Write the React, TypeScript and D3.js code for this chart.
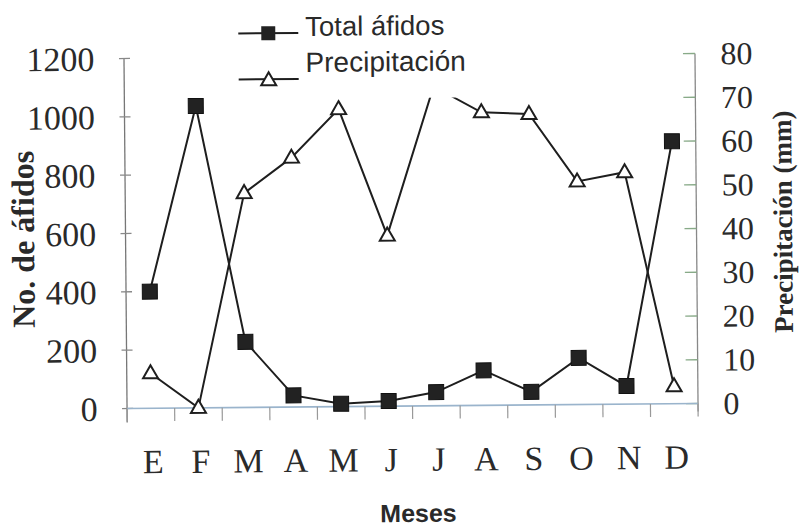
import React from "react";
import * as d3 from "d3";

const months = ["E", "F", "M", "A", "M", "J", "J", "A", "S", "O", "N", "D"];
const afidos = [400, 1035, 225, 40, 10, 18, 47, 120, 45, 160, 62, 900];
const precip = [8, 0, 49, 57, 68, 39, 73, 67, 66.5, 51, 53, 4];
const leftTicks = [0, 200, 400, 600, 800, 1000, 1200];
const rightTicks = [0, 10, 20, 30, 40, 50, 60, 70, 80];

const W = 801;
const H = 526;
const L = 125.5;
const R = 696.5;
const B = 406;
const T = 56;

export default function App() {
  const idx = d3.range(months.length);
  const x = d3.scaleBand<number>().domain(idx).range([L, R]);
  const bw = x.bandwidth();
  const cx = (i: number) => (x(i) as number) + bw / 2;
  const yL = d3.scaleLinear().domain([0, 1200]).range([B, T]);
  const yR = d3.scaleLinear().domain([0, 80]).range([B, T]);

  const lineA = d3
    .line<number>()
    .x((d, i) => cx(i))
    .y((d) => yL(d));
  const lineP = d3
    .line<number>()
    .x((d, i) => cx(i))
    .y((d) => yR(d));

  const ink = "#1e1e1e";
  const tri = "M0,-8L7.5,5L-7.5,5Z";
  const serif = "'Liberation Serif', 'Times New Roman', serif";
  const sans = "'Liberation Sans', Arial, sans-serif";

  return (
    <svg
      width={W}
      height={H}
      style={{ position: "absolute", left: 0, top: 0, background: "#fff" }}
    >
      <rect x={0} y={0} width={W} height={H} fill="#fff" />
      <g transform="rotate(-0.5, 411, 230)">
        {/* left axis */}
        <line x1={L} x2={L} y1={T} y2={B + 14} stroke="#777" strokeWidth={1.3} />
        {leftTicks.map((t) => (
          <g key={"l" + t}>
            <line x1={L - 5} x2={L + 6} y1={yL(t)} y2={yL(t)} stroke="#888" strokeWidth={1.3} />
            <text
              x={96}
              y={yL(t) + 12}
              textAnchor="end"
              fontFamily={serif}
              fontSize={34}
              fill="#2a2a2a"
            >
              {t}
            </text>
          </g>
        ))}
        {/* right axis */}
        <line x1={R} x2={R} y1={T} y2={B + 8} stroke="#888" strokeWidth={1.3} />
        {rightTicks.map((t) => (
          <g key={"r" + t}>
            <line x1={R - 12} x2={R} y1={yR(t)} y2={yR(t)} stroke="#8a8" strokeWidth={1.3} />
            <text
              x={722}
              y={yR(t) + 11}
              textAnchor="start"
              fontFamily={serif}
              fontSize={32}
              fill="#2a2a2a"
            >
              {t}
            </text>
          </g>
        ))}
        {/* x axis */}
        <line x1={L} x2={R} y1={B} y2={B} stroke="#9ab4cc" strokeWidth={1.6} />
        {d3.range(months.length + 1).map((k) => {
          const xx = L + k * bw;
          return (
            <line key={"xt" + k} x1={xx} x2={xx} y1={B} y2={B + 13} stroke="#999" strokeWidth={1.2} />
          );
        })}
        {months.map((m, i) => (
          <text
            key={"m" + i}
            x={cx(i) + 2}
            y={471}
            textAnchor="middle"
            fontFamily={serif}
            fontSize={34}
            fill="#2a2a2a"
          >
            {m}
          </text>
        ))}

        {/* series lines */}
        <path d={lineP(precip) || ""} fill="none" stroke={ink} strokeWidth={2} />
        <path d={lineA(afidos) || ""} fill="none" stroke={ink} strokeWidth={2} />
        {precip.map((v, i) => (
          <path
            key={"p" + i}
            d={tri}
            transform={`translate(${cx(i)},${yR(v)})`}
            fill="#fff"
            stroke={ink}
            strokeWidth={2}
          />
        ))}
        {afidos.map((v, i) => (
          <rect
            key={"a" + i}
            x={cx(i) - 7.5}
            y={yL(v) - 7.5}
            width={15}
            height={15}
            fill="#222"
            stroke="#111"
            strokeWidth={1}
          />
        ))}

        {/* legend with white background */}
        <rect x={226} y={-10} width={258} height={108} fill="#fff" />
        <line x1={240} x2={300} y1={32} y2={32} stroke={ink} strokeWidth={2} />
        <rect x={263} y={25} width={14} height={14} fill="#222" />
        <text x={307} y={35} fontFamily={sans} fontSize={27.5} fill="#2a2a2a">
          Total áfidos
        </text>
        <line x1={240} x2={300} y1={78} y2={78} stroke={ink} strokeWidth={2} />
        <path d={tri} transform="translate(270,79)" fill="#fff" stroke={ink} strokeWidth={2} />
        <text x={307} y={71} fontFamily={sans} fontSize={28} fill="#2a2a2a">
          Precipitación
        </text>

        {/* axis titles */}
        <text
          transform="translate(34,236) rotate(-90)"
          textAnchor="middle"
          fontFamily={serif}
          fontWeight="bold"
          fontSize={32}
          fill="#2a2a2a"
        >
          No. de áfidos
        </text>
        <text
          transform="translate(792,225) rotate(-90)"
          textAnchor="middle"
          fontFamily={serif}
          fontWeight="bold"
          fontSize={27}
          fill="#2a2a2a"
        >
          Precipitación (mm)
        </text>
        <text
          x={416}
          y={522}
          textAnchor="middle"
          fontFamily={sans}
          fontWeight="bold"
          fontSize={25}
          fill="#2a2a2a"
        >
          Meses
        </text>
      </g>
    </svg>
  );
}
